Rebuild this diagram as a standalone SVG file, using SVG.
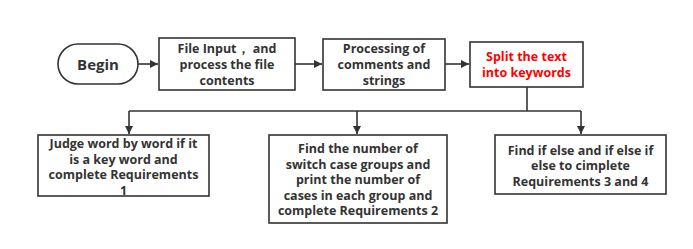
<svg xmlns="http://www.w3.org/2000/svg" width="693" height="249" viewBox="0 0 693 249">
  <defs>
    <marker id="arrow" viewBox="0 0 10 10" refX="10" refY="5" markerWidth="8" markerHeight="8" markerUnits="userSpaceOnUse" orient="auto">
      <path d="M0,0 L10,5 L0,10 Z" fill="#333"/>
    </marker>
    <style>
      .box { fill: #fff; stroke: #333; stroke-width: 1.6; }
      .lbl { font-family: "Open Sans", "Noto Sans", sans-serif; font-weight: bold; font-size: 12.5px; fill: #333; text-anchor: middle; }
      .red { fill: #ff0000; }
      .big { font-size: 15px; }
      .conn { fill: none; stroke: #333; stroke-width: 1.6; }
    </style>
  </defs>
  <rect width="693" height="249" fill="#fff"/>

  <g id="connectors">
    <path class="conn" d="M138,64 H158" marker-end="url(#arrow)"/>
    <path class="conn" d="M295,64 H322" marker-end="url(#arrow)"/>
    <path class="conn" d="M445,64 H469" marker-end="url(#arrow)"/>
    <path class="conn" d="M527,87 V111"/>
    <path class="conn" d="M129,111 H581"/>
    <path class="conn" d="M129,111 V134" marker-end="url(#arrow)"/>
    <path class="conn" d="M357,111 V134" marker-end="url(#arrow)"/>
    <path class="conn" d="M581,111 V134" marker-end="url(#arrow)"/>
  </g>

  <g id="begin">
    <rect class="box" x="58" y="44" width="80" height="40" rx="20" ry="20"/>
    <text class="lbl big" x="98" y="69.5">Begin</text>
  </g>

  <g id="file-input">
    <rect class="box" x="159" y="38" width="136" height="52"/>
    <text class="lbl" x="227" y="52.5">File Input， and</text>
    <text class="lbl" x="227" y="68.5">process the file</text>
    <text class="lbl" x="227" y="84.5">contents</text>
  </g>

  <g id="processing">
    <rect class="box" x="323" y="39" width="122" height="51"/>
    <text class="lbl" x="384" y="52.5">Processing of</text>
    <text class="lbl" x="384" y="68.5">comments and</text>
    <text class="lbl" x="384" y="84.5">strings</text>
  </g>

  <g id="split">
    <rect class="box" x="470" y="42" width="113" height="45"/>
    <text class="lbl red" x="526.5" y="60.5">Split the text</text>
    <text class="lbl red" x="526.5" y="77">into keywords</text>
  </g>

  <g id="req1">
    <rect class="box" x="38" y="135" width="171" height="61"/>
    <text class="lbl" x="123.5" y="147.5">Judge word by word if it</text>
    <text class="lbl" x="123.5" y="163.5">is a key word and</text>
    <text class="lbl" x="123.5" y="179">complete  Requirements</text>
    <text class="lbl" x="123.5" y="194.5">1</text>
  </g>

  <g id="req2">
    <rect class="box" x="269" y="135" width="178" height="88"/>
    <text class="lbl" x="358" y="153">Find the number of</text>
    <text class="lbl" x="358" y="168.5">switch case groups and</text>
    <text class="lbl" x="358" y="184">print the number of</text>
    <text class="lbl" x="358" y="199.5">cases in each group and</text>
    <text class="lbl" x="358" y="215">complete Requirements 2</text>
  </g>

  <g id="req3">
    <rect class="box" x="495" y="135" width="171" height="59"/>
    <text class="lbl" x="580.5" y="154.5">Find if else and if else if</text>
    <text class="lbl" x="580.5" y="170">else to cimplete</text>
    <text class="lbl" x="580.5" y="186">Requirements 3 and 4</text>
  </g>
</svg>
